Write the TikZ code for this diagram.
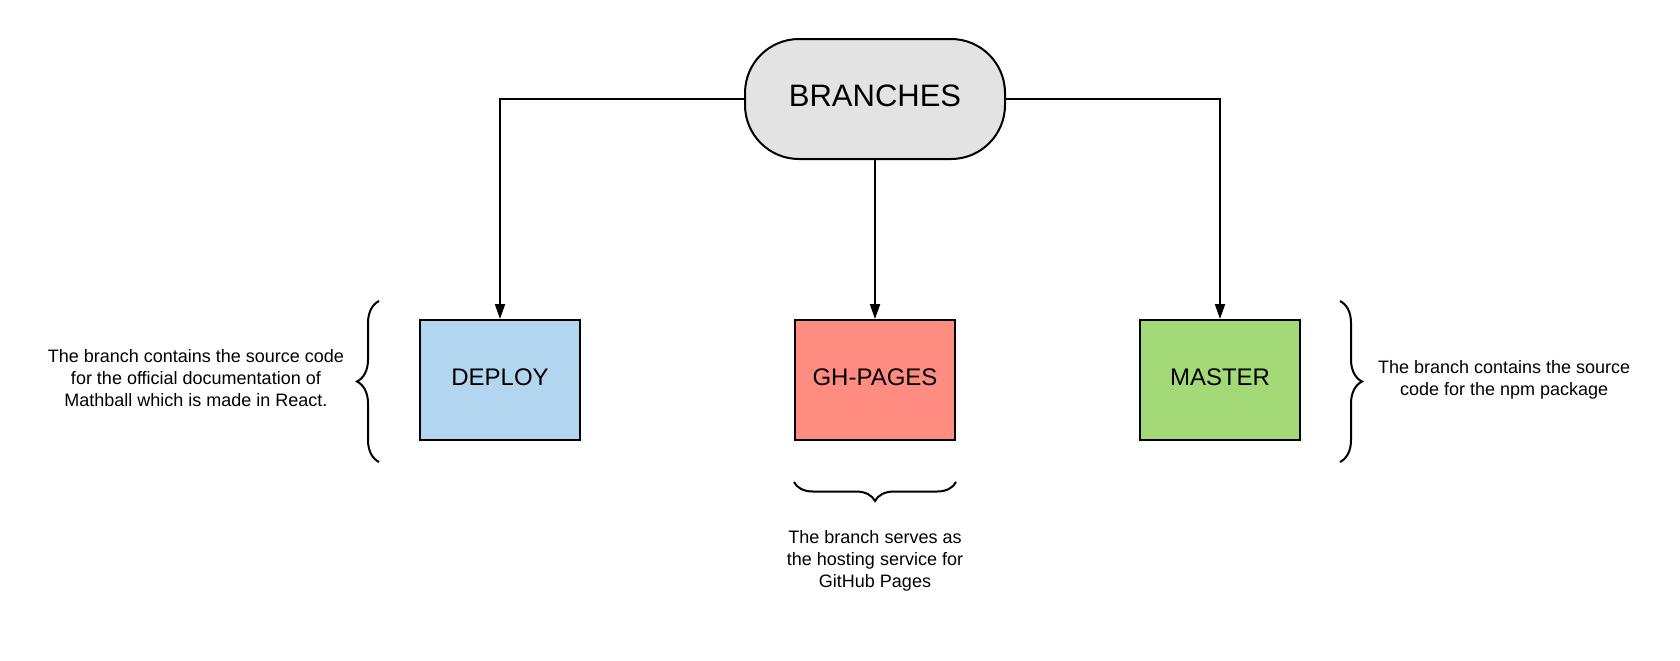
\documentclass[tikz,border=0pt]{standalone}
\usepackage{fontspec}
\setmainfont{Liberation Sans}
\usetikzlibrary{positioning,shapes,arrows.meta,decorations.pathreplacing}
\definecolor{rootgray}{HTML}{E3E3E3}
\definecolor{deployblue}{HTML}{B3D6F0}
\definecolor{pagesred}{HTML}{FF8C80}
\definecolor{mastergreen}{HTML}{A4D977}

\begin{document}
\begin{tikzpicture}[
            line width=1pt,
            box/.style={ draw, minimum width=80pt, minimum height=60pt, text depth=3pt, font=\fontsize{12}{14}\selectfont },
            note/.style={ align=center, inner sep=2pt, font=\fontsize{9}{11}\selectfont },
            link/.style={ -{Triangle[width=5pt,length=7.5pt]} },
            node distance=79.5pt
        ]
        \useasboundingbox (0,0) rectangle (840pt,-330pt);

        \node[draw, fill=rootgray, rounded corners=27pt, minimum width=130pt, minimum height=60pt, text depth=3pt, font=\fontsize{15.5}{18}\selectfont] (branches) at (437.5pt,-49.5pt) {BRANCHES};

        \node[box, fill=pagesred, below=of branches] (ghpages) {GH-PAGES};
        \node[box, fill=deployblue, left=106.5pt of ghpages] (deploy) {DEPLOY};
        \node[box, fill=mastergreen, right=91.5pt of ghpages] (master) {MASTER};

        \draw[link] (branches.west) -| (deploy.north);
        \draw[link] (branches.south) -- (ghpages.north);
        \draw[link] (branches.east) -| (master.north);

        \draw [decorate,decoration={brace,amplitude=11pt}] ([xshift=-20pt,yshift=-10.5pt]deploy.south west) -- ([xshift=-20pt,yshift=9pt]deploy.north west) node[note,midway,left=15pt,yshift=1.5pt] {The branch contains the source code\\for the official documentation of\\Mathball which is made in React.};
        \draw [decorate,decoration={brace,amplitude=11pt}] ([xshift=19.5pt,yshift=9pt]master.north east) -- ([xshift=19.5pt,yshift=-10.5pt]master.south east) node[note,midway,right=16.5pt,yshift=1pt] {The branch contains the source\\code for the npm package};
        \draw [decorate,decoration={brace,amplitude=9.5pt}] ([yshift=-20.5pt]ghpages.south east) -- ([yshift=-20.5pt]ghpages.south west) node[note,midway,below=21.5pt] {The branch serves as\\the hosting service for\\GitHub Pages};
    \end{tikzpicture}
\end{document}
